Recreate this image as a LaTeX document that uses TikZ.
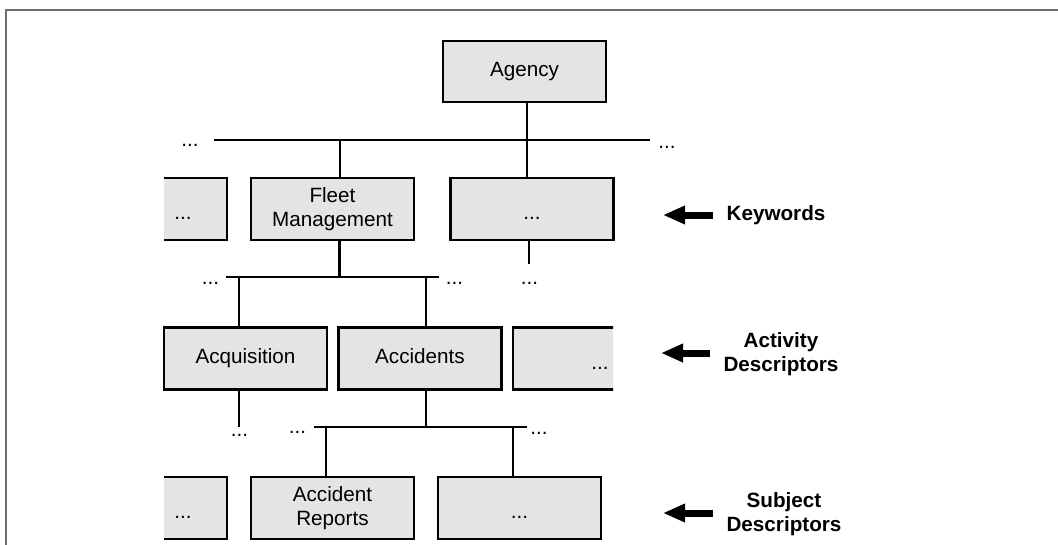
\documentclass[tikz,border=0pt]{standalone}
\usepackage{fontspec}
\setmainfont{Liberation Sans}
\usetikzlibrary{arrows.meta}
\definecolor{boxfill}{RGB}{228,228,228}
\definecolor{framegray}{RGB}{110,110,110}
\newcommand\lowdots{\rule{0pt}{12pt}\raisebox{-4pt}{...}}
\tikzset{
  box/.style={draw=black, fill=boxfill, line width=1.8pt, minimum width=122.25pt,
    minimum height=46.5pt, inner sep=0pt, align=center,
    font=\fontsize{15.5}{17.5}\selectfont},
  conn/.style={line width=2.1pt},
  dots/.style={inner sep=0pt, font=\fontsize{15.5}{17.5}\selectfont},
  lbl/.style={font=\fontsize{15.5}{17.5}\selectfont\bfseries, align=center, inner sep=0pt},
  fat/.style={line width=5.25pt, -{Triangle[length=16.5pt,width=13pt]}},
}
\begin{document}
\begin{tikzpicture}[x=0.75pt,y=-0.75pt]
\useasboundingbox (0,0) rectangle (1058,544);
\draw[framegray, line width=1.3pt] (6,546) -- (6,10) -- (1060,10);

% bus coordinates
\coordinate (b1l) at (214,140); \coordinate (b1r) at (650,140);
\coordinate (b2l) at (226,277); \coordinate (b2r) at (439,277);
\coordinate (b3l) at (314,427); \coordinate (b3r) at (527,427);
\coordinate (k2end) at (529,264);
\coordinate (acqend) at (239,427);

% boxes
\node[box, minimum height=45.75pt] (agency) at (524.5,71.5) {\strut Agency};
\node[box] (fleet) at (332.5,209) {Fleet\\Management};
\node[box] (k2) at (532,209) {\lowdots};
\begin{scope}
  \clip (164,0) rectangle (1058,544);
  \node[box, minimum width=66pt] (k0) at (183,209) {\lowdots};
  \node[box, minimum width=66pt] (s0) at (183,508) {\lowdots};
\end{scope}
\node[box] (acq) at (245.5,358.5) {\strut Acquisition};
\node[box] (acc) at (420,358.5) {\strut Accidents};
\begin{scope}
  \clip (0,0) rectangle (613,544);
  \node[box, minimum width=130.5pt] (a2) at (600,358.5) {\lowdots};
\end{scope}
\node[box] (rep) at (332.5,508) {Accident\\Reports};
\node[box] (s2) at (519.5,508) {\lowdots};

% connectors
\draw[conn] (b1l) -- (b1r);
\draw[conn] ([xshift=1.9pt]agency.south) -- ([xshift=1.9pt]agency.south |- k2.north);
\draw[conn] ([xshift=5.6pt]fleet.north) -- ([xshift=5.6pt]fleet.north |- b1l);
\draw[conn] (k2.south -| k2end) -- (k2end);
\draw[conn] ([xshift=5.3pt]fleet.south) -- ([xshift=5.3pt]fleet.south |- b2l);
\draw[conn] (b2l) -- (b2r);
\draw[conn] ([xshift=-4.9pt]acq.north) -- ([xshift=-4.9pt]acq.north |- b2l);
\draw[conn] ([xshift=4.5pt]acc.north) -- ([xshift=4.5pt]acc.north |- b2l);
\draw[conn] (acq.south -| acqend) -- (acqend);
\draw[conn] ([xshift=4.5pt]acc.south) -- ([xshift=4.5pt]acc.south |- b3l);
\draw[conn] (b3l) -- (b3r);
\draw[conn] ([xshift=-4.9pt]rep.north) -- ([xshift=-4.9pt]rep.north |- b3l);
\draw[conn] ([xshift=-4.9pt]s2.north) -- ([xshift=-4.9pt]s2.north |- b3l);

% ellipses outside boxes
\node[dots] (d1) at (190,145) {...};
\node[dots] (d2) at (667,147) {...};
\node[dots] (d3) at (210.5,283) {...};
\node[dots] (d4) at (454.5,283) {...};
\node[dots] (d5) at (529.5,283) {...};
\node[dots] (d6) at (239.5,435) {...};
\node[dots] (d7) at (297.5,432) {...};
\node[dots] (d8) at (539,433) {...};

% level labels and arrows
\node[lbl] (kw) at (776,215) {Keywords};
\node[lbl] (ad) at (781,354) {Activity\\Descriptors};
\node[lbl] (sd) at (784,514) {Subject\\Descriptors};
\coordinate (kwa) at (713,215); \coordinate (kwb) at (663,215);
\coordinate (ada) at (710,353); \coordinate (adb) at (661,353);
\coordinate (sda) at (713,513); \coordinate (sdb) at (663,513);
\draw[fat] (kwa) -- (kwb);
\draw[fat] (ada) -- (adb);
\draw[fat] (sda) -- (sdb);
\end{tikzpicture}
\end{document}
